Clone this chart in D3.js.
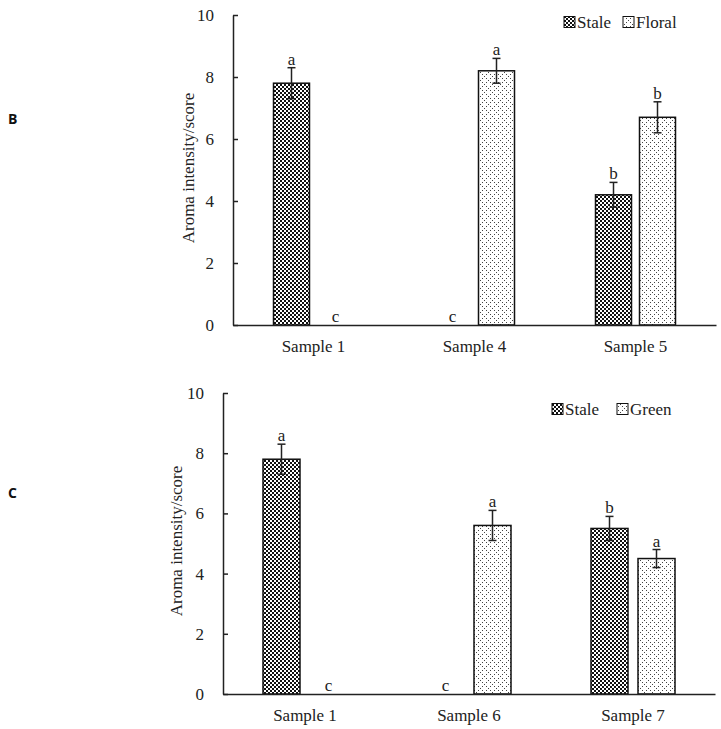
<!DOCTYPE html>
<html><head><meta charset="utf-8">
<script src="https://cdn.jsdelivr.net/npm/d3@7"></script>
<style>body{margin:0;background:#fff}svg{display:block;font-family:"Liberation Serif",serif}</style>
</head><body>
<script>
// ---- data ----
const samplesB = ["Sample 1", "Sample 4", "Sample 5"];
const seriesB = ["Stale", "Floral"];
const staleB = [7.8, 0, 4.2];
const staleErrB = [0.5, 0, 0.4];
const staleLetB = ["a", "c", "b"];
const floralB = [0, 8.2, 6.7];
const floralErrB = [0, 0.4, 0.5];
const floralLetB = ["c", "a", "b"];

const samplesC = ["Sample 1", "Sample 6", "Sample 7"];
const seriesC = ["Stale", "Green"];
const staleC = [7.8, 0, 5.5];
const staleErrC = [0.5, 0, 0.4];
const staleLetC = ["a", "c", "b"];
const greenC = [0, 5.6, 4.5];
const greenErrC = [0, 0.5, 0.3];
const greenLetC = ["c", "a", "a"];

const yTicks = [0, 2, 4, 6, 8, 10];
const yTitle = "Aroma intensity/score";

const W = 721, H = 729;
const svg = d3.select("body").append("svg").attr("width", W).attr("height", H);
svg.append("rect").attr("width", W).attr("height", H).attr("fill", "#fff");
const defs = svg.append("defs");

// checker pattern (Stale)
const p1 = defs.append("pattern").attr("id", "pStale").attr("patternUnits", "userSpaceOnUse")
  .attr("width", 4).attr("height", 4);
p1.append("rect").attr("width", 4).attr("height", 4).attr("fill", "#fff");
p1.append("rect").attr("width", 2).attr("height", 2).attr("fill", "#111");
p1.append("rect").attr("x", 2).attr("y", 2).attr("width", 2).attr("height", 2).attr("fill", "#111");
// dotted pattern (Floral / Green)
const p2 = defs.append("pattern").attr("id", "pDot").attr("patternUnits", "userSpaceOnUse")
  .attr("width", 8).attr("height", 8);
p2.append("rect").attr("width", 8).attr("height", 8).attr("fill", "#fff");
[[0,0],[2,2],[4,4],[6,6],[6,2],[2,6]].forEach(([x,y]) =>
  p2.append("rect").attr("x", x).attr("y", y).attr("width", 1).attr("height", 1).attr("fill", "#444"));

const FONT = "Liberation Serif";

function drawChart(cfg) {
  const g = svg.append("g");
  const y = d3.scaleLinear().domain([0, 10]).range([cfg.y0, cfg.y10]);
  const x = d3.scaleBand().domain(cfg.samples).range([cfg.x0, cfg.x1]);
  const xs = d3.scaleBand().domain(cfg.series).range([-cfg.half, cfg.half]).paddingInner(cfg.pad);

  // y axis
  const ya = g.append("g").attr("transform", `translate(${cfg.x0},0)`)
    .call(d3.axisLeft(y).tickValues(yTicks).tickSize(-5).tickSizeOuter(0).tickPadding(19)
      .tickFormat(d3.format("d")));
  ya.attr("font-family", FONT).attr("font-size", 17);
  ya.selectAll("path,line").attr("stroke", "#222").attr("stroke-width", 1.5);
  ya.selectAll("text").attr("fill", "#222");

  // bars
  const rows = cfg.series.map((s, si) => cfg.samples.map((c, ci) => ({
    s, c, v: cfg.vals[si][ci], e: cfg.errs[si][ci], l: cfg.lets[si][ci], fill: cfg.fills[si]
  }))).flat();

  g.selectAll("rect.bar").data(rows.filter(d => d.v > 0)).join("rect").attr("class", "bar")
    .attr("x", d => x(d.c) + x.bandwidth() / 2 + xs(d.s))
    .attr("width", xs.bandwidth())
    .attr("y", d => y(d.v)).attr("height", d => y(0) - y(d.v))
    .attr("fill", d => d.fill).attr("stroke", "#111").attr("stroke-width", 1.5);

  // error bars
  const eb = rows.filter(d => d.e > 0);
  const cx = d => x(d.c) + x.bandwidth() / 2 + xs(d.s) + xs.bandwidth() / 2;
  g.selectAll("line.err").data(eb).join("line")
    .attr("x1", cx).attr("x2", cx).attr("y1", d => y(d.v - d.e)).attr("y2", d => y(d.v + d.e))
    .attr("stroke", "#222").attr("stroke-width", 1.5);
  ["top", "bot"].forEach(k => {
    g.selectAll("line.cap" + k).data(eb).join("line")
      .attr("x1", d => cx(d) - 4).attr("x2", d => cx(d) + 4)
      .attr("y1", d => y(k === "top" ? d.v + d.e : d.v - d.e))
      .attr("y2", d => y(k === "top" ? d.v + d.e : d.v - d.e))
      .attr("stroke", "#222").attr("stroke-width", 1.5);
  });

  // letters
  g.selectAll("text.let").data(rows).join("text")
    .attr("x", cx).attr("y", d => y(d.v + d.e) - 3)
    .attr("text-anchor", "middle").attr("font-family", FONT).attr("font-size", 17).attr("fill", "#222")
    .text(d => d.l);

  // x axis
  const xa = g.append("g").attr("transform", `translate(0,${cfg.y0})`)
    .call(d3.axisBottom(x).tickSize(0).tickSizeOuter(0).tickPadding(15));
  xa.attr("font-family", FONT).attr("font-size", 17);
  xa.selectAll("path").attr("stroke", "#222").attr("stroke-width", 1.5);
  xa.selectAll("text").attr("fill", "#222");

  // y title
  g.append("text").attr("transform", `translate(${cfg.tx},${cfg.ty}) rotate(-90)`)
    .attr("text-anchor", "middle").attr("dy", "0.35em")
    .attr("font-family", FONT).attr("font-size", 17).attr("fill", "#222").text(yTitle);

  // legend
  cfg.series.forEach((s, i) => {
    const lx = cfg.legX[i];
    g.append("rect").attr("x", lx).attr("y", cfg.legY - 5.5).attr("width", 11).attr("height", 11)
      .attr("fill", cfg.fills[i]).attr("stroke", "#111").attr("stroke-width", 1);
    g.append("text").attr("x", lx + 13).attr("y", cfg.legY).attr("dy", "0.35em")
      .attr("font-family", FONT).attr("font-size", 17).attr("fill", "#222").text(s);
  });

  // panel letter
  svg.append("text").attr("x", 8).attr("y", cfg.panelY).attr("font-family", "Open Sans")
    .attr("font-weight", "bold").attr("font-size", 14).attr("fill", "#111").text(cfg.panel);
}

drawChart({
  samples: samplesB, series: seriesB,
  vals: [staleB, floralB], errs: [staleErrB, floralErrB], lets: [staleLetB, floralLetB],
  fills: ["url(#pStale)", "url(#pDot)"],
  x0: 233, x1: 716, y0: 325, y10: 15, half: 40, pad: 8 / 44,
  tx: 188, ty: 168, legX: [564, 623], legY: 22, panel: "B", panelY: 124
});
drawChart({
  samples: samplesC, series: seriesC,
  vals: [staleC, greenC], errs: [staleErrC, greenErrC], lets: [staleLetC, greenLetC],
  fills: ["url(#pStale)", "url(#pDot)"],
  x0: 223, x1: 715, y0: 694, y10: 393, half: 42, pad: 0.2128,
  tx: 176, ty: 541, legX: [552, 617], legY: 409, panel: "C", panelY: 498
});
</script>
</body></html>
